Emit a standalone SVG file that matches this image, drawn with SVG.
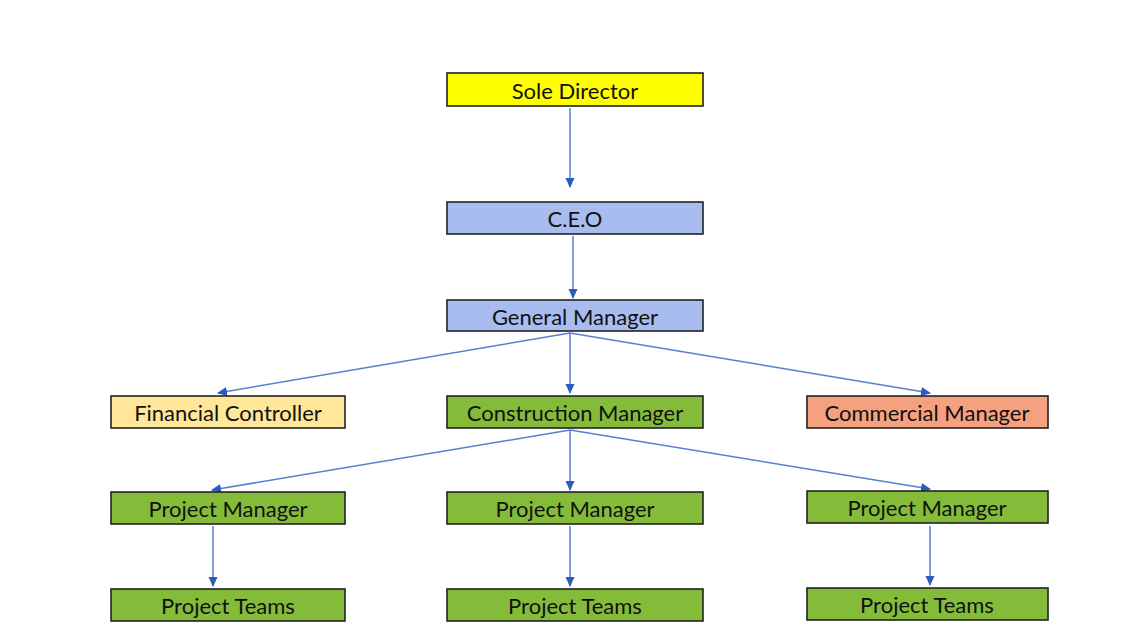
<svg xmlns="http://www.w3.org/2000/svg" width="1142" height="629" viewBox="0 0 1142 629">
<defs>
<marker id="ah" markerWidth="10" markerHeight="10" refX="9" refY="5" orient="auto" markerUnits="userSpaceOnUse">
<path d="M0,0.5 L10,5 L0,9.5 Z" fill="#2a5cc0"/>
</marker>
<style>
.box{stroke:#222;stroke-width:1.6}
.t{font-family:Lato,"Liberation Sans",sans-serif;font-size:22px;fill:#111;text-anchor:middle;dominant-baseline:central}
.c{fill:none;stroke:#5a7fcf;stroke-width:1.5;marker-end:url(#ah)}
</style>
</defs>
<rect width="1142" height="629" fill="#ffffff"/>
<g id="connectors">
<line class="c" x1="570" y1="108" x2="570" y2="187"/>
<line class="c" x1="573" y1="236" x2="573" y2="298"/>
<line class="c" x1="570" y1="333" x2="218" y2="393"/>
<line class="c" x1="570" y1="333" x2="570" y2="393"/>
<line class="c" x1="570" y1="333" x2="930" y2="393"/>
<line class="c" x1="570" y1="430" x2="212" y2="490"/>
<line class="c" x1="570" y1="430" x2="570" y2="490"/>
<line class="c" x1="570" y1="430" x2="930" y2="489"/>
<line class="c" x1="213" y1="526" x2="213" y2="586"/>
<line class="c" x1="570" y1="526" x2="570" y2="586"/>
<line class="c" x1="930" y1="526" x2="930" y2="585"/>
</g>
<g id="sole-director"><rect class="box" x="447" y="73" width="256" height="33" fill="#ffff00"/><text class="t" x="575" y="90">Sole Director</text></g>
<g id="ceo"><rect class="box" x="447" y="202" width="256" height="32" fill="#a9bcf0"/><text class="t" x="575" y="218">C.E.O</text></g>
<g id="general-manager"><rect class="box" x="447" y="300" width="256" height="31" fill="#a9bcf0"/><text class="t" x="575" y="316">General Manager</text></g>
<g id="financial-controller"><rect class="box" x="111" y="396" width="234" height="32" fill="#ffe699"/><text class="t" x="228" y="412">Financial Controller</text></g>
<g id="construction-manager"><rect class="box" x="447" y="396" width="256" height="32" fill="#84bc3a"/><text class="t" x="575" y="412">Construction Manager</text></g>
<g id="commercial-manager"><rect class="box" x="807" y="396" width="241" height="32" fill="#f5a07e"/><text class="t" x="927" y="412">Commercial Manager</text></g>
<g id="pm1"><rect class="box" x="111" y="492" width="234" height="32" fill="#84bc3a"/><text class="t" x="228" y="508">Project Manager</text></g>
<g id="pm2"><rect class="box" x="447" y="492" width="256" height="32" fill="#84bc3a"/><text class="t" x="575" y="508">Project Manager</text></g>
<g id="pm3"><rect class="box" x="807" y="491" width="241" height="32" fill="#84bc3a"/><text class="t" x="927" y="507">Project Manager</text></g>
<g id="pt1"><rect class="box" x="111" y="589" width="234" height="32" fill="#84bc3a"/><text class="t" x="228" y="605">Project Teams</text></g>
<g id="pt2"><rect class="box" x="447" y="589" width="256" height="32" fill="#84bc3a"/><text class="t" x="575" y="605">Project Teams</text></g>
<g id="pt3"><rect class="box" x="807" y="588" width="241" height="32" fill="#84bc3a"/><text class="t" x="927" y="604">Project Teams</text></g>
</svg>
